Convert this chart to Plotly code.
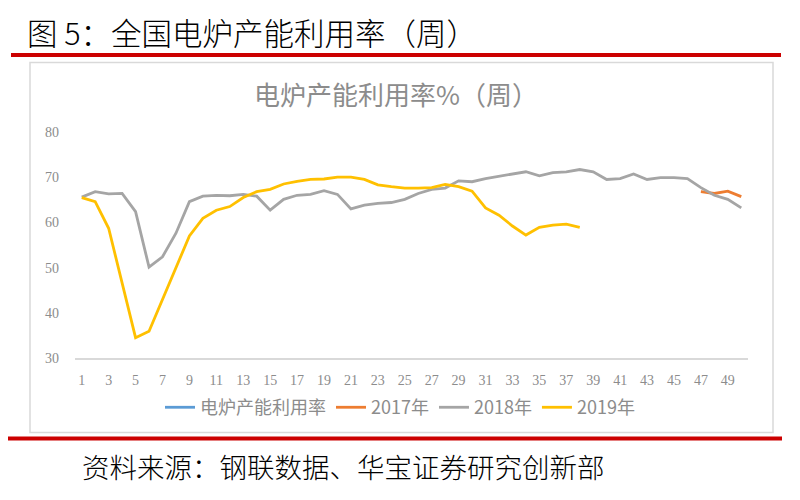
import plotly.graph_objects as go

weeks = list(range(1, 51))

series_names = ["电炉产能利用率", "2017年", "2018年", "2019年"]
series_colors = ["#5B9BD5", "#ED7D31", "#A5A5A5", "#FFC000"]

util_total = [None] * 50

y2017 = [None] * 46 + [66.8, 66.4, 66.9, 65.7]

y2018 = [65.6, 66.8, 66.3, 66.4, 62.4, 50.1, 52.4, 57.6, 64.6, 65.8,
         66.0, 65.9, 66.2, 65.8, 62.7, 65.1, 66.0, 66.2, 67.0, 66.2,
         63.0, 63.8, 64.2, 64.4, 65.1, 66.4, 67.3, 67.6, 69.2, 69.0,
         69.7, 70.2, 70.7, 71.2, 70.3, 71.0, 71.2, 71.7, 71.2, 69.5,
         69.7, 70.7, 69.5, 69.9, 69.9, 69.7, 67.7, 66.0, 65.1, 63.2]

y2019 = [65.5, 64.6, 58.7, 46.5, 34.5, 35.9, 42.9, 50.2, 57.0, 60.9,
         62.7, 63.5, 65.5, 66.8, 67.3, 68.5, 69.1, 69.5, 69.6, 70.0,
         70.0, 69.5, 68.3, 67.9, 67.6, 67.6, 67.7, 68.4, 67.9, 66.9,
         63.2, 61.6, 59.2, 57.2, 58.9, 59.4, 59.6, 58.9] + [None] * 12

x_tickvals = list(range(1, 50, 2))
y_tickvals = [30, 40, 50, 60, 70, 80]

main_title = "图 5：全国电炉产能利用率（周）"
chart_title = "电炉产能利用率%（周）"
source_text = "资料来源：钢联数据、华宝证券研究创新部"

# page offset from default body margin
OFF = 8
# plot area in page pixels
L, R, T, B = 75, 748, 131.7, 358.3
W, H = 800 - OFF, 500 - OFF


def xp(px):
    return (px - L) / (R - L)


def yp(py):
    return (B - py) / (B - T)


fig = go.Figure()
for name, color, ys in zip(series_names, series_colors, [util_total, y2017, y2018, y2019]):
    fig.add_trace(go.Scatter(
        x=weeks, y=ys, name=name, mode="lines",
        line=dict(color=color, width=2.8),
        connectgaps=False,
    ))

fig.update_layout(
    width=W, height=H,
    margin=dict(l=L - OFF, r=800 - R, t=T - OFF, b=500 - B),
    paper_bgcolor="white", plot_bgcolor="white",
    font=dict(family="Noto Sans CJK SC", color="#8C8C8C"),
    showlegend=True,
    legend=dict(
        orientation="h", xanchor="center", yanchor="middle",
        x=xp(400), y=yp(408),
        font=dict(size=18, color="#8C8C8C", family="Noto Sans CJK SC"),
        itemwidth=30, tracegroupgap=0,
    ),
    xaxis=dict(
        range=[0.5, 50.5], tickmode="array", tickvals=x_tickvals,
        showgrid=False, zeroline=False, showline=True, linecolor="#D9D9D9",
        linewidth=1.5, ticks="", ticklabelstandoff=8,
        tickfont=dict(family="Liberation Serif", size=14, color="#8C8C8C"),
        fixedrange=True,
    ),
    yaxis=dict(
        range=[30, 80], tickmode="array", tickvals=y_tickvals,
        showgrid=False, zeroline=False, showline=False, ticks="",
        ticklabelstandoff=15,
        tickfont=dict(family="Liberation Serif", size=14, color="#8C8C8C"),
        fixedrange=True,
    ),
    shapes=[
        dict(type="rect", xref="paper", yref="paper",
             x0=xp(30), x1=xp(773), y0=yp(433), y1=yp(62),
             line=dict(color="#D9D9D9", width=1.5), fillcolor="rgba(0,0,0,0)", layer="below"),
        dict(type="line", xref="paper", yref="paper",
             x0=xp(11), x1=xp(781), y0=yp(54.5), y1=yp(54.5),
             line=dict(color="#CC0000", width=4)),
        dict(type="line", xref="paper", yref="paper",
             x0=xp(8), x1=xp(782), y0=yp(439), y1=yp(439),
             line=dict(color="#CC0000", width=4)),
    ],
    annotations=[
        dict(text=main_title, xref="paper", yref="paper", x=xp(25), y=yp(31),
             xanchor="left", yanchor="middle", showarrow=False,
             font=dict(size=30.5, color="#000000", family="Noto Sans CJK SC", weight=300)),
        dict(text=chart_title, xref="paper", yref="paper", x=xp(396), y=yp(93),
             xanchor="center", yanchor="middle", showarrow=False,
             font=dict(size=26, color="#8C8C8C", family="Noto Sans CJK SC")),
        dict(text=source_text, xref="paper", yref="paper", x=xp(80), y=yp(467),
             xanchor="left", yanchor="middle", showarrow=False,
             font=dict(size=27.5, color="#000000", family="Noto Sans CJK SC", weight=300)),
    ],
)

fig.write_html("out.html", config={"displayModeBar": False})
